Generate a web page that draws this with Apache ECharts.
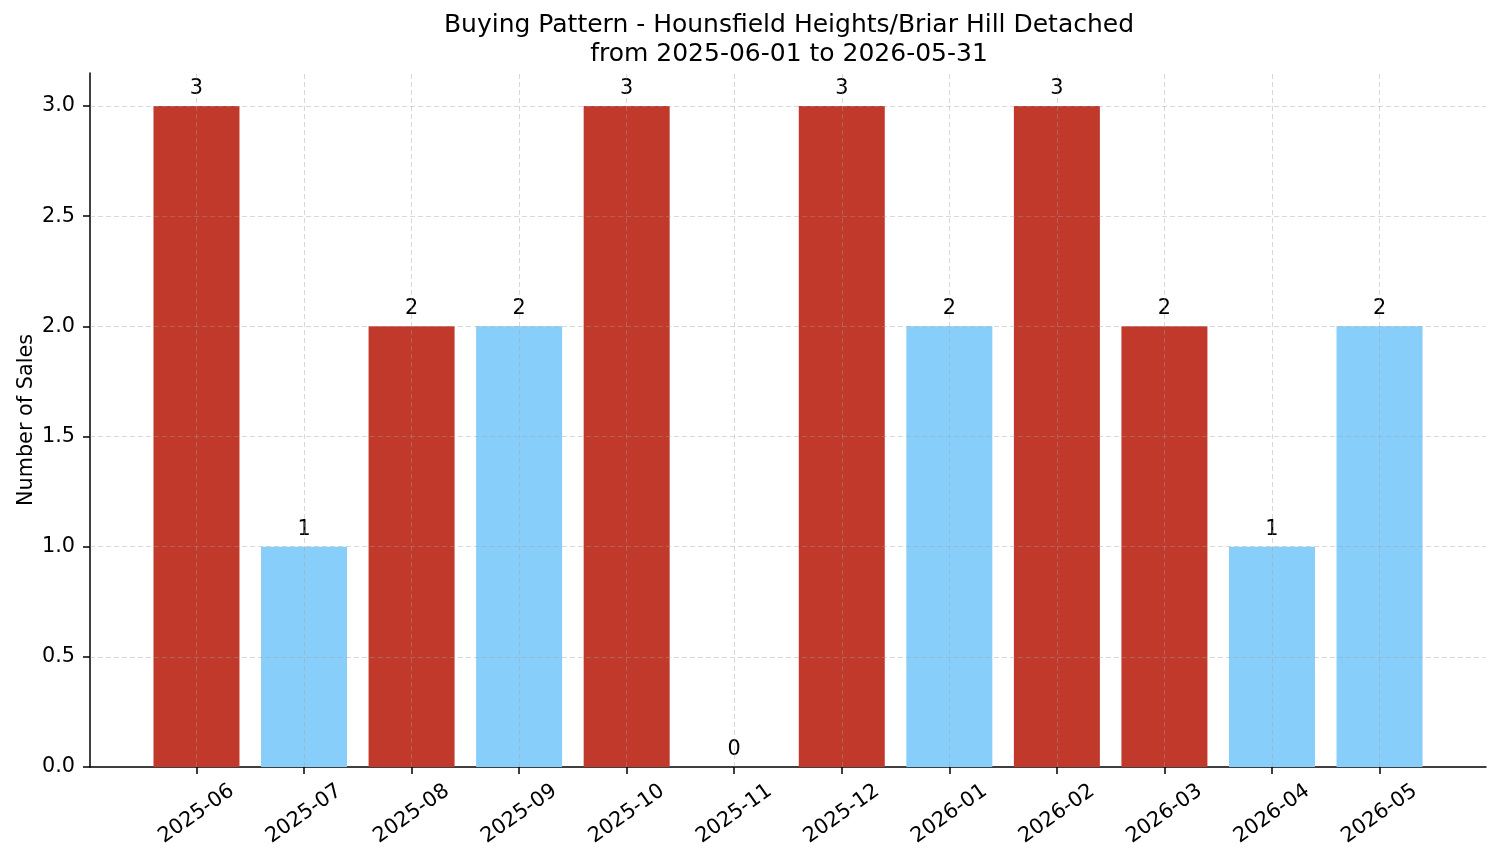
<!DOCTYPE html>
<html>
<head>
<meta charset="utf-8">
<title>Buying Pattern</title>
<script src="https://cdn.jsdelivr.net/npm/echarts@6/dist/echarts.min.js"></script>
<style>
  html, body { margin: 0; padding: 0; background: #fff; }
  #chart { width: 1501px; height: 863px; }
</style>
</head>
<body>
<div id="chart"></div>
<script>
// months on the x axis
var months = ["2025-06", "2025-07", "2025-08", "2025-09", "2025-10", "2025-11",
              "2025-12", "2026-01", "2026-02", "2026-03", "2026-04", "2026-05"];
// number of sales per month
var sales = [3, 1, 2, 2, 3, 0, 3, 2, 3, 2, 1, 2];
// which months are drawn in the dark (red) colour
var highlight = [1, 0, 1, 0, 1, 0, 1, 0, 1, 1, 0, 0];
// y tick labels
var yTicks = [0, 0.5, 1.0, 1.5, 2.0, 2.5, 3.0];

var RED = "#c0392b";
var BLUE = "#87cefa";
var FONT = "DejaVu Sans";

var idx = months.map(function (m, i) { return i; });
var barData = sales.map(function (v, i) { return [i, v]; });

var gridLines = idx.map(function (i) { return { xAxis: i }; })
  .concat(yTicks.filter(function (v) { return v > 0; }).map(function (v) { return { yAxis: v }; }));

var chart = echarts.init(document.getElementById("chart"));

var option = {
  animation: false,
  backgroundColor: "#fff",
  title: {
    text: "Buying Pattern - Hounsfield Heights/Briar Hill Detached\nfrom 2025-06-01 to 2026-05-31",
    left: 789,
    top: 11,
    padding: 0,
    textAlign: "center",
    textStyle: {
      fontFamily: FONT,
      fontSize: 25,
      fontWeight: "normal",
      color: "#000",
      lineHeight: 29,
    },
  },
  grid: {
    left: 90,
    right: 15,
    top: 73,
    bottom: 96,
    containLabel: false,
  },
  xAxis: {
    type: "value",
    min: -0.99,
    max: 11.99,
    axisLine: { show: true, onZero: false, lineStyle: { color: "#000", width: 1.5 } },
    axisTick: {
      show: true,
      length: 7,
      customValues: idx,
      lineStyle: { color: "#000", width: 1.5 },
    },
    axisLabel: {
      customValues: idx,
      rotate: 35,
      align: "center",
      verticalAlign: "middle",
      margin: 47,
      fontFamily: FONT,
      fontSize: 20.8,
      color: "#000",
      formatter: function (v) {
        return months[Math.round(v)] || "";
      },
    },
    splitLine: { show: false },
  },
  yAxis: {
    type: "value",
    min: 0,
    max: 3.15,
    name: "Number of Sales",
    nameLocation: "middle",
    nameGap: 53,
    nameMoveOverlap: false,
    nameTextStyle: {
      fontFamily: FONT,
      fontSize: 20.8,
      color: "#000",
    },
    axisLine: { show: true, onZero: false, lineStyle: { color: "#000", width: 1.5 } },
    axisTick: {
      show: true,
      length: 7,
      customValues: yTicks,
      lineStyle: { color: "#000", width: 1.5 },
    },
    axisLabel: {
      customValues: yTicks,
      margin: 15,
      fontFamily: FONT,
      fontSize: 20.8,
      color: "#000",
      formatter: function (v) {
        return v.toFixed(1);
      },
    },
    splitLine: { show: false },
  },
  series: [
    {
      type: "bar",
      data: barData,
      barWidth: 86,
      itemStyle: {
        color: function (p) {
          return highlight[p.dataIndex] ? RED : BLUE;
        },
      },
      label: {
        show: true,
        position: "top",
        distance: 7,
        fontFamily: FONT,
        fontSize: 20.8,
        color: "#000",
        formatter: function (p) {
          return String(p.value[1]);
        },
      },
      markLine: {
        silent: true,
        symbol: "none",
        label: { show: false },
        lineStyle: {
          color: "rgba(160,160,160,0.4)",
          type: [5, 3],
          width: 1,
        },
        data: gridLines,
      },
    },
  ],
};

chart.setOption(option);
window.addEventListener("resize", function () {
  chart.resize();
});
</script>
</body>
</html>
